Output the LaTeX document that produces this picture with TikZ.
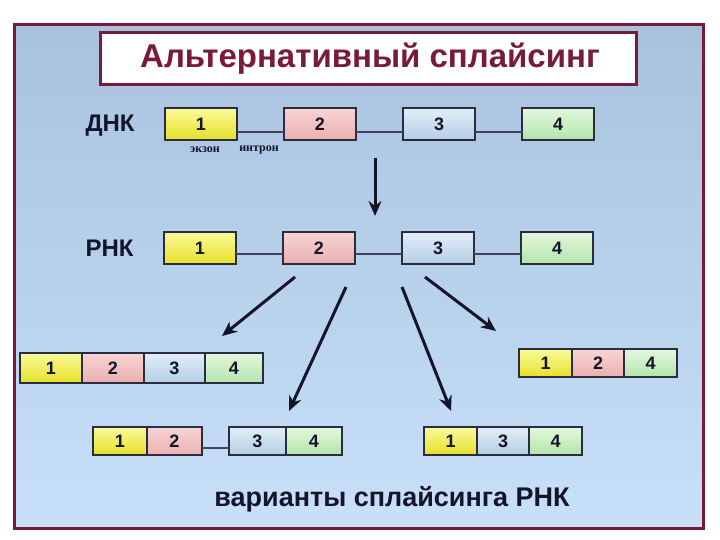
\documentclass[tikz,border=0pt]{standalone}
\usepackage{fontspec}
\setmainfont{Liberation Sans}
\newfontfamily\serifsmall{Liberation Serif}
\usetikzlibrary{arrows.meta,calc}
\definecolor{maroon}{HTML}{7A1A3A}
\definecolor{bgtop}{HTML}{A8C2DE}
\definecolor{bgbot}{HTML}{C8E0F8}
\definecolor{ink}{HTML}{14142A}
\definecolor{yelT}{HTML}{FAFA9A}
\definecolor{yelB}{HTML}{E6E02A}
\definecolor{pinkT}{HTML}{F8D4D4}
\definecolor{pinkB}{HTML}{EBB0B0}
\definecolor{bluT}{HTML}{E2EEF8}
\definecolor{bluB}{HTML}{B4CDE4}
\definecolor{grnT}{HTML}{E2F8DC}
\definecolor{grnB}{HTML}{B4E4AC}
\tikzset{
  exon/.style={draw=ink!90, line width=1.3pt, inner sep=0pt, outer sep=0pt,
    font=\bfseries\fontsize{18}{18}\selectfont, text=ink},
  ey/.style={exon, top color=yelT, bottom color=yelB},
  ep/.style={exon, top color=pinkT, bottom color=pinkB},
  eb/.style={exon, top color=bluT, bottom color=bluB},
  eg/.style={exon, top color=grnT, bottom color=grnB},
  intron/.style={draw=ink!80, line width=1.4pt},
  bigarrow/.style={draw=ink, line width=3pt, -{Stealth[length=15pt,width=13pt]}},
  rowlabel/.style={font=\bfseries\fontsize{24}{24}\selectfont, text=ink, anchor=west},
  smalllab/.style={font=\serifsmall\bfseries\fontsize{12}{12}\selectfont, text=ink},
}
\begin{document}
\begin{tikzpicture}[x=1pt,y=-1pt]
\useasboundingbox (0,0) rectangle (720,540);
\fill[white] (0,0) rectangle (720,540);
% background frame
\shade[top color=bgtop, bottom color=bgbot] (14,25) rectangle (703,528);
\draw[maroon, line width=3pt] (14,25) rectangle (703,528);
% title
\node[draw=maroon, line width=3pt, fill=white, minimum width=536pt, minimum height=52pt, inner sep=0pt] (title) at (368,59) {};
\node[text=maroon, font=\bfseries\fontsize{33}{33}\selectfont] (titletext) at (370,59) {Альтернативный сплайсинг};

% DNA row
\node[rowlabel] (dnk) at (82,126) {ДНК};
\node[ey, minimum width=72pt, minimum height=32pt] (d1) at (201,124) {1};
\node[ep, minimum width=72pt, minimum height=32pt] (d2) at (320,124) {2};
\node[eb, minimum width=72pt, minimum height=32pt] (d3) at (439,124) {3};
\node[eg, minimum width=72pt, minimum height=32pt] (d4) at (558,124) {4};
\draw[intron] ($(d1.east)+(0,8)$) -- ($(d2.west)+(0,8)$);
\draw[intron] ($(d2.east)+(0,8)$) -- ($(d3.west)+(0,8)$);
\draw[intron] ($(d3.east)+(0,8)$) -- ($(d4.west)+(0,8)$);
\node[smalllab] (ekzon) at (205,150) {экзон};
\node[smalllab] (intr) at (259,150) {интрон};

% arrow DNA -> RNA
\coordinate (a0s) at (375,158);
\coordinate (a0e) at (375,216);
\draw[bigarrow] (a0s) -- (a0e);

% RNA row
\node[rowlabel] (rnk) at (82,248) {РНК};
\node[ey, minimum width=72pt, minimum height=32pt] (r1) at (200,248) {1};
\node[ep, minimum width=72pt, minimum height=32pt] (r2) at (319,248) {2};
\node[eb, minimum width=72pt, minimum height=32pt] (r3) at (438,248) {3};
\node[eg, minimum width=72pt, minimum height=32pt] (r4) at (557,248) {4};
\draw[intron] ($(r1.east)+(0,6)$) -- ($(r2.west)+(0,6)$);
\draw[intron] ($(r2.east)+(0,6)$) -- ($(r3.west)+(0,6)$);
\draw[intron] ($(r3.east)+(0,6)$) -- ($(r4.west)+(0,6)$);

% arrows to variants
\coordinate (s1) at (295,277); \coordinate (e1) at (222,336);
\coordinate (s2) at (346,287); \coordinate (e2) at (289,411);
\coordinate (s3) at (402,287); \coordinate (e3) at (451,411);
\coordinate (s4) at (425,277); \coordinate (e4) at (496,331);
\draw[bigarrow] (s1) -- (e1);
\draw[bigarrow] (s2) -- (e2);
\draw[bigarrow] (s3) -- (e3);
\draw[bigarrow] (s4) -- (e4);

% variant A: 1 2 3 4
\node[ey, minimum width=62pt, minimum height=30pt] (a1) at (51,368) {1};
\node[ep, minimum width=62pt, minimum height=30pt] (a2) at (113,368) {2};
\node[eb, minimum width=61pt, minimum height=30pt] (a3) at (174.5,368) {3};
\node[eg, minimum width=58pt, minimum height=30pt] (a4) at (234,368) {4};

% variant B: 1 2 -- 3 4
\node[ey, minimum width=54pt, minimum height=28pt] (b1) at (120,441) {1};
\node[ep, minimum width=55pt, minimum height=28pt] (b2) at (174.5,441) {2};
\node[eb, minimum width=57pt, minimum height=28pt] (b3) at (257.5,441) {3};
\node[eg, minimum width=56pt, minimum height=28pt] (b4) at (314,441) {4};
\draw[intron] ($(b2.east)+(0,7)$) -- ($(b3.west)+(0,7)$);

% variant C: 1 2 4
\node[ey, minimum width=53pt, minimum height=28pt] (c1) at (545.5,363) {1};
\node[ep, minimum width=52pt, minimum height=28pt] (c2) at (598,363) {2};
\node[eg, minimum width=53pt, minimum height=28pt] (c4) at (650.5,363) {4};

% variant D: 1 3 4
\node[ey, minimum width=53pt, minimum height=28pt] (v1) at (450.5,441) {1};
\node[eb, minimum width=52pt, minimum height=28pt] (v3) at (503,441) {3};
\node[eg, minimum width=53pt, minimum height=28pt] (v4) at (555.5,441) {4};

% caption
\node[font=\bfseries\fontsize{27}{27}\selectfont, text=ink] (caption) at (392,499) {варианты сплайсинга РНК};
\end{tikzpicture}
\end{document}
